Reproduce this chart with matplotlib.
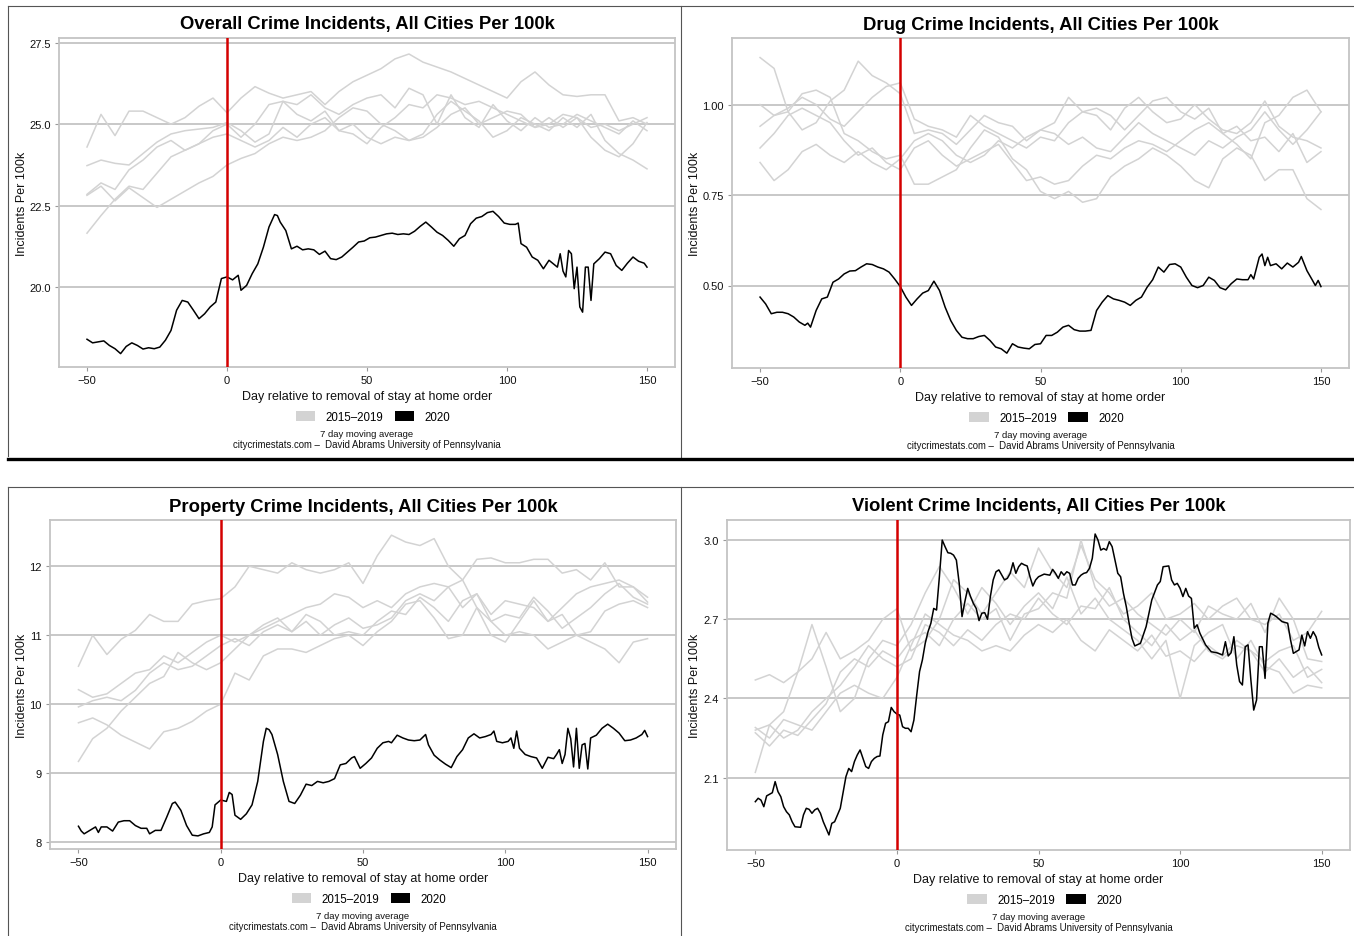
import numpy as np
import matplotlib.pyplot as plt
from matplotlib.lines import Line2D
from matplotlib.patches import Patch

W, H = 1354, 937
NARROW = ['Liberation Sans Narrow', 'Liberation Sans', 'DejaVu Sans']
REG = ['Liberation Sans', 'DejaVu Sans']

# days for the 2015-2019 series (read every 5 days)
days_past = list(range(-50, 151, 5))

# ---- overall crime ----
overall_past = [
    [24.3, 25.3, 24.65, 25.4, 25.4, 25.2, 25.0, 25.2, 25.55, 25.8, 25.35, 25.8, 26.15, 25.95, 25.8, 25.9, 26.0,
     25.6, 26.0, 26.3, 26.5, 26.7, 27.0, 27.15, 26.9, 26.75, 26.6, 26.4, 26.2, 26.0, 25.8, 26.3, 26.6, 26.2,
     25.9, 25.85, 25.9, 25.9, 25.1, 25.2, 25.0],
    [23.73, 23.9, 23.8, 23.75, 24.1, 24.45, 24.7, 24.8, 24.85, 24.9, 25.05, 24.8, 24.45, 24.7, 25.7, 25.6, 25.9,
     25.5, 25.3, 25.6, 25.8, 25.9, 25.5, 26.1, 25.9, 25.0, 25.9, 25.2, 24.9, 25.6, 25.1, 24.8, 25.2, 24.9, 25.0,
     25.3, 25.1, 24.9, 24.7, 25.1, 24.8],
    [22.85, 23.2, 23.0, 23.6, 23.9, 24.3, 24.5, 24.2, 24.4, 24.6, 24.7, 24.5, 24.3, 24.5, 24.9, 24.6, 25.0, 25.2,
     24.8, 25.0, 24.6, 24.4, 24.6, 24.5, 24.7, 25.3, 25.7, 25.4, 25.1, 24.6, 24.8, 25.2, 25.0, 24.8, 25.2, 24.9,
     25.3, 24.5, 24.1, 23.9, 23.63],
    [22.82, 23.1, 22.65, 23.05, 22.75, 22.45, 22.7, 22.95, 23.2, 23.4, 23.75, 23.95, 24.1, 24.4, 24.6, 24.5,
     24.6, 24.8, 25.2, 25.5, 25.4, 25.0, 24.8, 24.5, 24.6, 24.9, 25.3, 25.5, 25.0, 25.2, 25.4, 25.3, 24.9, 25.0,
     25.3, 25.2, 24.6, 24.2, 24.0, 24.4, 25.05],
    [21.66, 22.2, 22.7, 23.1, 23.0, 23.5, 24.0, 24.2, 24.4, 24.8, 25.0, 24.6, 25.0, 25.6, 25.7, 25.3, 25.1, 25.4,
     24.8, 24.7, 24.4, 24.9, 25.2, 25.6, 25.5, 25.9, 25.8, 25.6, 25.7, 25.5, 25.3, 25.1, 24.9, 25.2, 24.9, 25.2,
     24.9, 25.0, 24.8, 25.0, 25.2],
]
overall_days = (list(range(-50, 5, 2)) + list(range(5, 18, 2)) + [18, 19] + list(range(21, 104, 2))
                + [104, 105] + list(range(107, 118, 2)) + list(range(118, 132)) + list(range(133, 150, 2)) + [150])
overall_2020 = [
    18.41, 18.30, 18.33, 18.36, 18.22, 18.12, 17.97, 18.19, 18.30, 18.22, 18.11, 18.15, 18.12, 18.17, 18.38,
    18.68, 19.30, 19.60, 19.55, 19.30, 19.04, 19.19, 19.40, 19.55, 20.27,
    20.32, 20.23, 20.37,
    19.91, 20.06, 20.42, 20.72, 21.23, 21.85, 22.23,
    22.20, 22.00,
    21.74, 21.18, 21.26, 21.15, 21.18, 21.15, 21.01, 21.11, 20.88, 20.85,
    20.93, 21.08, 21.23, 21.39, 21.42, 21.52, 21.54, 21.59, 21.64, 21.66,
    21.62, 21.64, 21.62, 21.72, 21.87, 22.00, 21.85, 21.69, 21.59, 21.44,
    21.26, 21.49, 21.59, 21.95, 22.12, 22.17, 22.29, 22.33, 22.17, 21.97,
    21.93, 21.93,
    21.97, 21.34,
    21.23, 20.93, 20.83, 20.57, 20.83, 20.69,
    20.62, 21.03, 20.50, 20.32, 21.13, 21.03, 19.96, 20.62, 19.40, 19.24, 20.62, 20.62, 19.60, 20.72,
    20.88, 21.08, 21.03, 20.67, 20.52, 20.74, 20.93, 20.80, 20.74,
    20.62,
]

# ---- drug crime ----
drug_past = [
    [1.13, 1.10, 0.98, 0.93, 0.95, 1.01, 1.04, 1.12, 1.08, 1.06, 1.03, 0.92, 0.93, 0.92, 0.89, 0.93, 0.97, 0.95,
     0.94, 0.90, 0.93, 0.95, 1.02, 0.98, 0.99, 0.97, 0.93, 0.97, 1.01, 1.02, 0.98, 0.96, 0.99, 0.92, 0.89, 0.85,
     0.95, 0.97, 1.02, 1.04, 0.98],
    [1.00, 0.97, 0.98, 1.03, 1.04, 1.02, 0.92, 0.90, 0.87, 0.85, 0.86, 0.78, 0.78, 0.80, 0.82, 0.88, 0.93, 0.91,
     0.85, 0.82, 0.76, 0.74, 0.76, 0.73, 0.74, 0.80, 0.83, 0.85, 0.88, 0.86, 0.83, 0.79, 0.77, 0.85, 0.88, 0.86,
     0.79, 0.82, 0.82, 0.74, 0.71],
    [0.94, 0.97, 0.99, 1.02, 1.00, 0.96, 0.94, 0.98, 1.02, 1.05, 1.06, 0.96, 0.94, 0.93, 0.91, 0.97, 0.94, 0.92,
     0.90, 0.88, 0.91, 0.90, 0.95, 0.98, 0.97, 0.93, 0.99, 1.02, 0.98, 0.95, 0.96, 1.00, 0.96, 0.93, 0.92, 0.95,
     1.01, 0.94, 0.91, 0.90, 0.88],
    [0.88, 0.92, 0.97, 0.99, 0.97, 0.95, 0.90, 0.86, 0.88, 0.84, 0.82, 0.88, 0.90, 0.86, 0.83, 0.85, 0.87, 0.89,
     0.84, 0.79, 0.80, 0.78, 0.79, 0.83, 0.86, 0.85, 0.88, 0.90, 0.89, 0.87, 0.90, 0.93, 0.95, 0.92, 0.94, 0.90,
     0.91, 0.87, 0.92, 0.84, 0.87],
    [0.84, 0.79, 0.82, 0.87, 0.89, 0.86, 0.84, 0.87, 0.84, 0.82, 0.85, 0.90, 0.92, 0.90, 0.86, 0.84, 0.86, 0.90,
     0.88, 0.91, 0.93, 0.92, 0.89, 0.91, 0.88, 0.87, 0.91, 0.95, 0.92, 0.90, 0.88, 0.86, 0.90, 0.88, 0.91, 0.93,
     0.98, 0.93, 0.89, 0.93, 0.98],
]
drug_days = (list(range(-50, -33, 2)) + [-33, -32] + list(range(-30, 125, 2)) + [125, 126]
             + list(range(128, 133)) + list(range(134, 143, 2)) + [143, 145, 147, 148, 149, 150])
drug_2020 = [
    0.468, 0.449, 0.422, 0.426, 0.426, 0.422, 0.413, 0.399, 0.390,
    0.396, 0.385,
    0.431, 0.463, 0.468, 0.509, 0.518, 0.532, 0.540, 0.541, 0.551, 0.560,
    0.558, 0.551, 0.546, 0.537, 0.518, 0.497, 0.468, 0.445, 0.463, 0.479,
    0.486, 0.512, 0.486, 0.440, 0.403, 0.376, 0.357, 0.353, 0.353, 0.359,
    0.362, 0.348, 0.330, 0.325, 0.313, 0.339, 0.330, 0.327, 0.325, 0.337,
    0.339, 0.362, 0.362, 0.371, 0.385, 0.390, 0.378, 0.374, 0.374, 0.376,
    0.431, 0.454, 0.472, 0.463, 0.459, 0.454, 0.445, 0.459, 0.468, 0.495,
    0.516, 0.551, 0.537, 0.558, 0.560, 0.551, 0.523, 0.500, 0.494, 0.500,
    0.523, 0.514, 0.494, 0.488, 0.505, 0.518, 0.516, 0.516,
    0.530, 0.518,
    0.578, 0.587, 0.555, 0.578, 0.555,
    0.560, 0.546, 0.562, 0.551, 0.564,
    0.580, 0.541, 0.514, 0.500, 0.514, 0.497,
]

# ---- property crime ----
property_past = [
    [10.55, 11.0, 10.72, 10.94, 11.07, 11.3, 11.2, 11.2, 11.45, 11.5, 11.53, 11.7, 12.0, 11.95, 11.9, 12.05,
     11.95, 11.9, 11.95, 12.05, 11.75, 12.15, 12.45, 12.35, 12.3, 12.4, 12.0, 11.8, 12.1, 12.12, 12.05, 12.05,
     12.1, 12.1, 11.9, 11.95, 11.8, 12.05, 11.7, 11.7, 11.48],
    [10.21, 10.1, 10.15, 10.3, 10.45, 10.5, 10.7, 10.6, 10.75, 10.9, 11.0, 10.9, 11.0, 11.1, 11.2, 11.3, 11.4,
     11.45, 11.6, 11.55, 11.4, 11.5, 11.4, 11.6, 11.7, 11.75, 11.7, 11.4, 11.6, 11.3, 11.5, 11.45, 11.4, 11.2,
     11.4, 11.6, 11.7, 11.75, 11.8, 11.7, 11.55],
    [9.96, 10.05, 10.1, 10.05, 10.2, 10.45, 10.6, 10.5, 10.55, 10.7, 10.85, 10.95, 10.85, 11.05, 11.15, 11.05,
     11.2, 11.0, 11.15, 11.25, 11.1, 11.15, 11.25, 11.5, 11.6, 11.5, 11.7, 11.8, 11.4, 11.0, 10.9, 11.2, 11.5,
     11.2, 11.3, 11.0, 11.05, 11.35, 11.45, 11.5, 11.4],
    [9.73, 9.8, 9.7, 9.55, 9.45, 9.35, 9.6, 9.65, 9.75, 9.9, 10.0, 10.45, 10.35, 10.7, 10.8, 10.8, 10.75, 10.85,
     10.95, 11.0, 10.85, 11.05, 11.2, 11.45, 11.5, 11.25, 10.95, 11.0, 11.4, 11.2, 11.0, 11.05, 11.0, 10.8,
     10.9, 11.0, 10.9, 10.8, 10.6, 10.9, 10.95],
    [9.17, 9.5, 9.65, 9.9, 10.1, 10.3, 10.4, 10.75, 10.6, 10.5, 10.6, 10.8, 11.0, 11.15, 11.25, 11.05, 11.3,
     11.2, 11.0, 11.05, 11.0, 11.2, 11.35, 11.3, 11.55, 11.4, 11.2, 11.5, 11.6, 11.2, 11.3, 11.25, 11.55, 11.35,
     11.1, 11.25, 11.4, 11.6, 11.75, 11.55, 11.45],
]
property_days = [
    -50, -49, -48, -46, -44, -43, -42, -40, -38, -36,
    -34, -32, -30, -28, -26, -25, -23, -21, -19, -17,
    -16, -14, -12, -10, -8, -6, -4, -3, -2, 0,
    2, 3, 4, 5, 7, 9, 11, 13, 15, 16,
    17, 18, 20, 22, 24, 26, 28, 30, 32, 34,
    36, 38, 40, 42, 44, 46, 47, 49, 51, 53,
    55, 57, 59, 60, 62, 64, 66, 68, 70, 72,
    73, 75, 77, 79, 81, 83, 85, 87, 89, 91,
    93, 95, 96, 97, 99, 101, 102, 103, 104, 105,
    107, 109, 111, 113, 115, 117, 118, 119, 120, 121,
    122, 123, 124, 125, 126, 127, 128, 129, 130, 132,
    134, 136, 138, 140, 142, 144, 146, 148, 149, 150,
]
property_2020 = [
    8.23, 8.16, 8.12, 8.17, 8.22, 8.14, 8.22, 8.22, 8.16, 8.29,
    8.31, 8.31, 8.24, 8.20, 8.20, 8.12, 8.17, 8.17, 8.36, 8.56,
    8.58, 8.46, 8.24, 8.10, 8.09, 8.12, 8.14, 8.22, 8.54, 8.61,
    8.59, 8.72, 8.69, 8.39, 8.33, 8.41, 8.54, 8.88, 9.46, 9.65,
    9.63, 9.56, 9.27, 8.88, 8.59, 8.56, 8.68, 8.84, 8.82, 8.88,
    8.86, 8.88, 8.92, 9.12, 9.14, 9.22, 9.24, 9.07, 9.14, 9.22,
    9.36, 9.44, 9.46, 9.44, 9.55, 9.51, 9.48, 9.47, 9.48, 9.56,
    9.41, 9.26, 9.19, 9.13, 9.08, 9.24, 9.34, 9.51, 9.57, 9.51,
    9.53, 9.56, 9.61, 9.46, 9.44, 9.46, 9.51, 9.36, 9.61, 9.36,
    9.27, 9.24, 9.22, 9.07, 9.23, 9.21, 9.27, 9.34, 9.14, 9.27,
    9.65, 9.50, 9.09, 9.65, 9.07, 9.41, 9.43, 9.06, 9.51, 9.55,
    9.65, 9.71, 9.65, 9.58, 9.47, 9.48, 9.51, 9.56, 9.62, 9.53,
]

# ---- violent crime ----
violent_past = [
    [2.47, 2.49, 2.46, 2.50, 2.55, 2.65, 2.55, 2.58, 2.62, 2.70, 2.74, 2.58, 2.62, 2.70, 2.85, 2.80, 2.72, 2.80,
     2.88, 2.82, 2.97, 2.88, 2.82, 2.98, 2.85, 2.80, 2.72, 2.75, 2.80, 2.70, 2.72, 2.76, 2.70, 2.75, 2.78, 2.70,
     2.68, 2.72, 2.62, 2.65, 2.73],
    [2.12, 2.30, 2.35, 2.50, 2.68, 2.52, 2.35, 2.40, 2.55, 2.62, 2.60, 2.68, 2.80, 2.90, 2.82, 2.72, 2.82, 2.76,
     2.68, 2.75, 2.80, 2.74, 2.86, 2.72, 2.78, 2.70, 2.66, 2.62, 2.55, 2.62, 2.40, 2.60, 2.65, 2.68, 2.55, 2.62,
     2.52, 2.50, 2.42, 2.45, 2.44],
    [2.28, 2.30, 2.25, 2.28, 2.35, 2.40, 2.45, 2.52, 2.60, 2.55, 2.52, 2.55, 2.68, 2.65, 2.60, 2.66, 2.62, 2.68,
     2.72, 2.70, 2.78, 2.72, 2.68, 2.75, 2.74, 2.82, 2.70, 2.65, 2.60, 2.68, 2.62, 2.66, 2.58, 2.55, 2.60, 2.58,
     2.50, 2.55, 2.48, 2.52, 2.46],
    [2.29, 2.25, 2.32, 2.30, 2.28, 2.35, 2.42, 2.45, 2.42, 2.40, 2.48, 2.60, 2.72, 2.68, 2.64, 2.62, 2.58, 2.60,
     2.58, 2.64, 2.68, 2.65, 2.70, 2.62, 2.58, 2.66, 2.62, 2.58, 2.64, 2.56, 2.58, 2.54, 2.60, 2.56, 2.62, 2.58,
     2.54, 2.58, 2.60, 2.48, 2.51],
    [2.27, 2.22, 2.28, 2.26, 2.32, 2.38, 2.50, 2.55, 2.52, 2.58, 2.55, 2.62, 2.65, 2.60, 2.70, 2.76, 2.70, 2.74,
     2.62, 2.72, 2.74, 2.80, 2.78, 3.00, 2.82, 2.75, 2.78, 2.72, 2.68, 2.64, 2.70, 2.65, 2.75, 2.72, 2.70, 2.76,
     2.65, 2.78, 2.70, 2.55, 2.54],
]
violent_days = ([-50, -49, -48, -47, -46] + list(range(-44, -35)) + list(range(-34, -21)) + [-20]
                + list(range(-18, 51)) + [52, 54] + list(range(55, 85)) + [86, 88, 90, 92, 93, 94, 96]
                + list(range(97, 108)) + [109, 111, 113, 115] + list(range(116, 135))
                + [136, 138, 139, 140, 142] + list(range(143, 151)))
violent_2020 = [
    2.009, 2.022, 2.015, 1.990, 2.031,
    2.043, 2.085, 2.047, 2.028, 1.990, 1.971, 1.959, 1.933, 1.914,
    1.912, 1.959, 1.984, 1.980, 1.965, 1.978, 1.984, 1.965, 1.933, 1.908, 1.883, 1.927, 1.933,
    1.984,
    2.104, 2.135, 2.123, 2.161, 2.186, 2.205, 2.173, 2.142, 2.135, 2.161, 2.173, 2.180, 2.182, 2.262, 2.306,
    2.312, 2.366, 2.350,
    2.341, 2.337, 2.293, 2.287, 2.287, 2.274, 2.318, 2.413, 2.502, 2.546,
    2.609, 2.653, 2.685, 2.741, 2.735, 2.861, 3.000, 2.975, 2.952, 2.950,
    2.943, 2.924, 2.836, 2.710, 2.767, 2.817, 2.786, 2.760, 2.741, 2.695,
    2.723, 2.725, 2.700, 2.786, 2.849, 2.880, 2.887, 2.868, 2.849, 2.855,
    2.874, 2.914, 2.874, 2.899, 2.912, 2.906, 2.902, 2.861, 2.826, 2.849,
    2.861,
    2.871, 2.867,
    2.889, 2.874, 2.855, 2.880, 2.867, 2.880, 2.874, 2.830, 2.830, 2.855,
    2.867, 2.874, 2.877, 2.893, 2.931, 3.023, 3.000, 2.962, 2.968, 2.962,
    2.994, 2.975, 2.924, 2.874, 2.861, 2.798, 2.748, 2.685, 2.628, 2.599,
    2.609, 2.672, 2.773, 2.830, 2.843, 2.899, 2.902,
    2.849, 2.830, 2.836, 2.817, 2.786, 2.817, 2.788, 2.779, 2.666, 2.679, 2.647,
    2.603, 2.577, 2.573, 2.565,
    2.615, 2.561, 2.573, 2.634, 2.527, 2.464, 2.451, 2.596, 2.603, 2.470,
    2.356, 2.394, 2.596, 2.596, 2.476, 2.685, 2.723, 2.717, 2.710,
    2.691, 2.685, 2.622, 2.571, 2.584,
    2.640, 2.599, 2.653, 2.628, 2.653, 2.634, 2.593, 2.565,
]

panels = [
    dict(title='Overall Crime Incidents, All Cities Per 100k', past=overall_past,
         days=overall_days, cur=overall_2020, box=(59, 39, 675, 368), ylim=(17.56, 27.64),
         yt=[20.0, 22.5, 25.0, 27.5], ytl=['20.0', '22.5', '25.0', '27.5'], ylab_x=22),
    dict(title='Drug Crime Incidents, All Cities Per 100k', past=drug_past,
         days=drug_days, cur=drug_2020, box=(732, 39, 1349, 369), ylim=(0.272, 1.184),
         yt=[0.5, 0.75, 1.0], ytl=['0.50', '0.75', '1.00'], ylab_x=695),
    dict(title='Property Crime Incidents, All Cities Per 100k', past=property_past,
         days=property_days, cur=property_2020, box=(50, 521, 676, 850), ylim=(7.90, 12.67),
         yt=[8, 9, 10, 11, 12], ytl=['8', '9', '10', '11', '12'], ylab_x=22),
    dict(title='Violent Crime Incidents, All Cities Per 100k', past=violent_past,
         days=violent_days, cur=violent_2020, box=(727, 521, 1350, 851), ylim=(1.826, 3.076),
         yt=[2.1, 2.4, 2.7, 3.0], ytl=['2.1', '2.4', '2.7', '3.0'], ylab_x=695),
]

fig = plt.figure(figsize=(W / 100, H / 100), dpi=100)


def fx(x):
    return x / W


def fy(y):
    return 1 - y / H


grid_c = '#c4c4c4'
for p in panels:
    l, t, r, b = p['box']
    ax = fig.add_axes([fx(l), fy(b), (r - l) / W, (b - t) / H])
    for yt in p['yt']:
        ax.axhline(yt, color=grid_c, lw=1.3, zorder=0)
    for s in p['past']:
        ax.plot(days_past, s, color='#d3d3d3', lw=1.1, zorder=1)
    ax.plot(p['days'], p['cur'], color='black', lw=1.1, zorder=2)
    ax.axvline(0, color='#d40000', lw=1.8, zorder=3)
    ax.set_xlim(-60, 160)
    ax.set_ylim(*p['ylim'])
    ax.set_xticks([-50, 0, 50, 100, 150])
    ax.set_xticklabels(['\u221250', '0', '50', '100', '150'], family=NARROW, fontsize=8)
    ax.set_yticks(p['yt'])
    ax.set_yticklabels(p['ytl'], family=NARROW, fontsize=8)
    ax.tick_params(colors='#9a9a9a', labelcolor='#111111', length=3, width=0.8, pad=3)
    for sp in ax.spines.values():
        sp.set_color(grid_c)
        sp.set_linewidth(1.3)
    cx = (l + r) / 2
    fig.text(fx(cx), fy(t - 14), p['title'], ha='center', va='center', fontsize=13.3,
             fontweight='bold', family=NARROW)
    fig.text(fx(p['ylab_x']), fy((t + b) / 2), 'Incidents Per 100k', rotation=90,
             ha='center', va='center', fontsize=9, family=REG, color='#111111')
    fig.text(fx(cx), fy(b + 29), 'Day relative to removal of stay at home order', ha='center',
             va='center', fontsize=9, family=NARROW, color='#111111')
    handles = [Patch(facecolor='#d3d3d3', edgecolor='none'), Patch(facecolor='black', edgecolor='none')]
    ax.legend(handles, ['2015\u20132019', '2020'], loc='center', ncol=2, frameon=False,
              bbox_to_anchor=(fx(cx + 6), fy(b + 50)), bbox_transform=fig.transFigure,
              prop={'family': NARROW, 'size': 8.3}, handlelength=1.7, handleheight=0.9,
              handletextpad=0.9, columnspacing=1.0)
    fig.text(fx(cx), fy(b + 67), '7 day moving average', ha='center', va='center',
             fontsize=6.8, family=NARROW, color='#111111')
    fig.text(fx(cx), fy(b + 77), 'citycrimestats.com \u2013  David Abrams University of Pennsylvania',
             ha='center', va='center', fontsize=6.9, family=NARROW, color='#111111')

# screenshot frame lines
frame = [
    ((8, 7), (W, 7), '#555555', 0.8),
    ((8, 7), (8, 457), '#555555', 0.8),
    ((681, 7), (681, 458), '#555555', 0.8),
    ((8, 460), (W, 460), 'black', 2.4),
    ((8, 488), (W, 488), '#555555', 0.8),
    ((8, 488), (8, H), '#555555', 0.8),
    ((681, 488), (681, H), '#555555', 0.8),
]
for (x0, y0), (x1, y1), c, lw in frame:
    fig.add_artist(Line2D([fx(x0), fx(x1)], [fy(y0), fy(y1)], transform=fig.transFigure,
                          color=c, lw=lw))

fig.savefig('out.png', dpi=100, facecolor='white')
